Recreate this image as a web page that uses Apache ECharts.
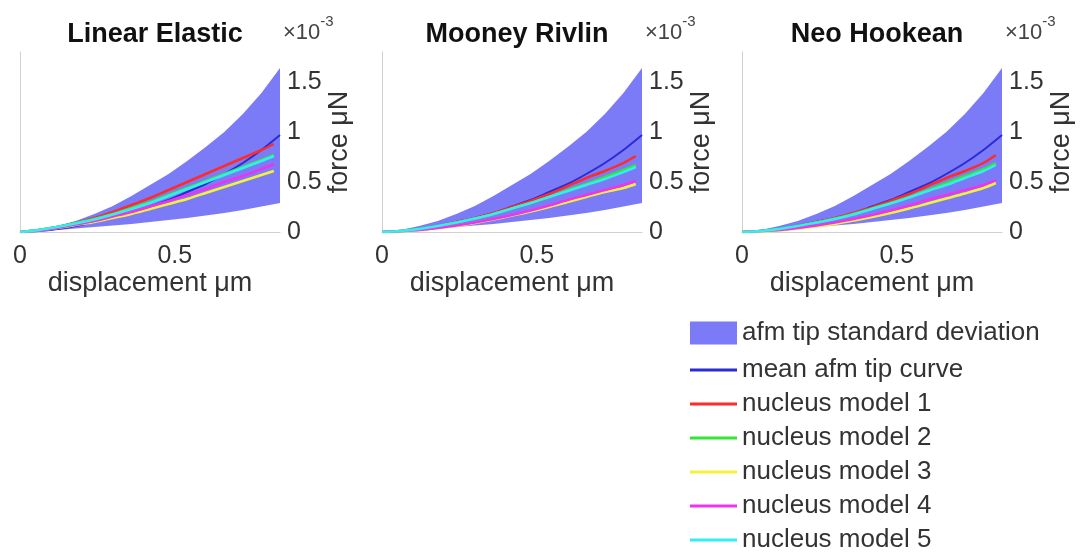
<!DOCTYPE html>
<html>
<head>
<meta charset="utf-8">
<script src="https://cdn.jsdelivr.net/npm/echarts@6/dist/echarts.min.js"></script>
<style>
    html, body { margin: 0; padding: 0; background: #fff; }
    #chart { width: 1081px; height: 552px; }
</style>
</head>
<body>
<div id="chart"></div>
<script>
// displacement (um) and force (x10^-3 uN)
var dispX = [0, 0.06, 0.12, 0.18, 0.24, 0.30, 0.36, 0.42, 0.48, 0.54, 0.60, 0.66, 0.72, 0.78, 0.84];
var modelX = [0, 0.06, 0.12, 0.18, 0.24, 0.30, 0.36, 0.42, 0.48, 0.54, 0.60, 0.66, 0.72, 0.78, 0.82];

var bandLower = [0, 0.01, 0.02, 0.035, 0.05, 0.065, 0.08, 0.10, 0.12, 0.14, 0.165, 0.19, 0.22, 0.255, 0.29];
var bandUpper = [0, 0.02, 0.06, 0.11, 0.18, 0.26, 0.36, 0.47, 0.58, 0.71, 0.85, 1.00, 1.18, 1.39, 1.64];
var meanCurve = [0, 0.01, 0.03, 0.06, 0.10, 0.14, 0.19, 0.255, 0.32, 0.40, 0.48, 0.58, 0.69, 0.82, 0.97];

// Linear Elastic
var leModel1 = [0, 0.02, 0.05, 0.09, 0.14, 0.20, 0.27, 0.34, 0.42, 0.50, 0.58, 0.66, 0.74, 0.82, 0.88];
var leModel2 = [0, 0.02, 0.05, 0.09, 0.13, 0.18, 0.24, 0.30, 0.37, 0.44, 0.51, 0.58, 0.65, 0.72, 0.77];
var leModel3 = [0, 0.015, 0.04, 0.07, 0.10, 0.14, 0.18, 0.23, 0.28, 0.33, 0.39, 0.45, 0.51, 0.57, 0.61];
var leModel4 = [0, 0.015, 0.04, 0.075, 0.11, 0.155, 0.20, 0.255, 0.31, 0.37, 0.43, 0.50, 0.56, 0.63, 0.68];
var leModel5 = [0, 0.02, 0.05, 0.085, 0.125, 0.175, 0.23, 0.29, 0.36, 0.43, 0.50, 0.57, 0.64, 0.71, 0.76];
// Mooney Rivlin
var mrModel1 = [0, 0.01, 0.03, 0.06, 0.10, 0.14, 0.19, 0.25, 0.31, 0.38, 0.46, 0.54, 0.61, 0.69, 0.76];
var mrModel2 = [0, 0.01, 0.03, 0.06, 0.095, 0.135, 0.18, 0.235, 0.29, 0.35, 0.42, 0.48, 0.55, 0.62, 0.67];
var mrModel3 = [0, 0.01, 0.02, 0.04, 0.06, 0.09, 0.125, 0.165, 0.205, 0.25, 0.30, 0.35, 0.40, 0.44, 0.48];
var mrModel4 = [0, 0.01, 0.02, 0.04, 0.065, 0.095, 0.13, 0.17, 0.215, 0.265, 0.32, 0.37, 0.42, 0.47, 0.51];
var mrModel5 = [0, 0.01, 0.03, 0.06, 0.095, 0.135, 0.18, 0.235, 0.29, 0.35, 0.41, 0.47, 0.53, 0.60, 0.65];
// Neo Hookean
var nhModel1 = [0, 0.01, 0.03, 0.06, 0.10, 0.14, 0.19, 0.245, 0.31, 0.38, 0.46, 0.54, 0.61, 0.69, 0.77];
var nhModel2 = [0, 0.01, 0.03, 0.06, 0.095, 0.135, 0.18, 0.235, 0.29, 0.35, 0.42, 0.49, 0.56, 0.63, 0.69];
var nhModel3 = [0, 0.005, 0.015, 0.035, 0.055, 0.08, 0.115, 0.15, 0.19, 0.235, 0.285, 0.335, 0.385, 0.44, 0.49];
var nhModel4 = [0, 0.01, 0.02, 0.04, 0.065, 0.095, 0.13, 0.17, 0.215, 0.265, 0.32, 0.37, 0.42, 0.47, 0.52];
var nhModel5 = [0, 0.01, 0.03, 0.06, 0.095, 0.13, 0.175, 0.23, 0.285, 0.345, 0.41, 0.47, 0.54, 0.61, 0.67];

var panelTitles = ['Linear Elastic', 'Mooney Rivlin', 'Neo Hookean'];
var bandName = 'afm tip standard deviation';
var meanName = 'mean afm tip curve';
var modelNames = ['nucleus model 1', 'nucleus model 2', 'nucleus model 3', 'nucleus model 4', 'nucleus model 5'];
var modelColors = ['#ff2b2b', '#33e633', '#f2f23a', '#ee33ee', '#33eeee'];
var panelModels = [
    [leModel1, leModel2, leModel3, leModel4, leModel5],
    [mrModel1, mrModel2, mrModel3, mrModel4, mrModel5],
    [nhModel1, nhModel2, nhModel3, nhModel4, nhModel5]
];

var FONT = 'Liberation Sans, Arial, sans-serif';
var BAND_COLOR = '#7b7bf7';
var MEAN_COLOR = '#2b2bd6';
var panelLeft = [20, 382, 742];
var panelWidth = 260;

function zip(xs, ys) {
    var out = [];
    for (var i = 0; i < ys.length; i++) {
        out.push([xs[i], ys[i]]);
    }
    return out;
}

// shaded std band: polygon along the upper curve and back along the lower one
function renderBand(params, api) {
    var pts = [];
    for (var i = 0; i < dispX.length; i++) {
        pts.push(api.coord([dispX[i], bandUpper[i]]));
    }
    for (var j = dispX.length - 1; j >= 0; j--) {
        pts.push(api.coord([dispX[j], bandLower[j]]));
    }
    return {
        type: 'polygon',
        shape: {points: pts},
        style: {fill: BAND_COLOR, stroke: null}
    };
}

var grids = [], xAxes = [], yAxes = [], titles = [], graphics = [], series = [];

for (var p = 0; p < 3; p++) {
    grids.push({left: panelLeft[p], top: 52, width: panelWidth, height: 180});
    titles.push({
        text: panelTitles[p],
        left: panelLeft[p] + 130,
        top: 16,
        textAlign: 'center',
        textStyle: {fontFamily: FONT, fontSize: 27, fontWeight: 'bold', color: '#111'}
    });
    xAxes.push({
        gridIndex: p,
        type: 'value',
        min: 0,
        max: 0.84,
        interval: 0.5,
        name: 'displacement \u03bcm',
        nameLocation: 'middle',
        nameGap: 38,
        nameTextStyle: {fontFamily: FONT, fontSize: 27, color: '#333'},
        axisLine: {lineStyle: {color: '#d0d0d0'}},
        axisTick: {show: false},
        splitLine: {show: false},
        axisLabel: {fontFamily: FONT, fontSize: 25, color: '#333', margin: 12, showMaxLabel: false}
    });
    yAxes.push({
        gridIndex: p,
        type: 'value',
        position: 'right',
        min: 0,
        max: 1.8,
        interval: 0.5,
        name: 'force \u03bcN',
        nameLocation: 'middle',
        nameRotate: 90,
        nameGap: 44,
        nameTextStyle: {fontFamily: FONT, fontSize: 27, color: '#333'},
        axisLine: {show: true, lineStyle: {color: '#d0d0d0'}},
        axisTick: {show: false},
        splitLine: {show: false},
        axisLabel: {fontFamily: FONT, fontSize: 25, color: '#333', margin: 7, showMaxLabel: false}
    });
    graphics.push({
        type: 'text',
        left: panelLeft[p] + panelWidth + 3,
        top: 14,
        style: {
            text: '{a|\u00d710}{b|-3}',
            rich: {
                a: {fontFamily: FONT, fontSize: 22, fill: '#444', padding: [8, 0, 0, 0]},
                b: {fontFamily: FONT, fontSize: 15, fill: '#444', verticalAlign: 'top'}
            }
        }
    });

    series.push({
        name: bandName,
        type: 'custom',
        xAxisIndex: p,
        yAxisIndex: p,
        silent: true,
        itemStyle: {color: BAND_COLOR},
        renderItem: renderBand,
        data: [[0, 0]]
    });
    series.push({
        name: meanName,
        type: 'line',
        xAxisIndex: p,
        yAxisIndex: p,
        symbol: 'none',
        smooth: 0.3,
        color: MEAN_COLOR,
        lineStyle: {width: 2, color: MEAN_COLOR},
        data: zip(dispX, meanCurve)
    });
    for (var m = 0; m < 5; m++) {
        series.push({
            name: modelNames[m],
            type: 'line',
            xAxisIndex: p,
            yAxisIndex: p,
            symbol: 'none',
            smooth: 0.3,
            color: modelColors[m],
            lineStyle: {width: 2.5, color: modelColors[m]},
            data: zip(modelX, panelModels[p][m])
        });
    }
}

var legendText = {fontFamily: FONT, fontSize: 26, color: '#333'};

var chart = echarts.init(document.getElementById('chart'));
chart.setOption({
    animation: false,
    backgroundColor: '#fff',
    title: titles,
    grid: grids,
    xAxis: xAxes,
    yAxis: yAxes,
    graphic: graphics,
    legend: [
        {
            orient: 'vertical',
            left: 690,
            top: 320,
            padding: 0,
            itemWidth: 47,
            itemHeight: 23,
            symbolKeepAspect: false,
            selectedMode: false,
            textStyle: legendText,
            data: [{name: bandName, icon: 'rect', itemStyle: {color: BAND_COLOR}}]
        },
        {
            orient: 'vertical',
            left: 690,
            top: 357,
            height: 220,
            padding: 0,
            itemWidth: 47,
            itemHeight: 3,
            itemGap: 8,
            symbolKeepAspect: false,
            selectedMode: false,
            icon: 'rect',
            textStyle: legendText,
            data: [meanName].concat(modelNames)
        }
    ],
    series: series
});
</script>
</body>
</html>
